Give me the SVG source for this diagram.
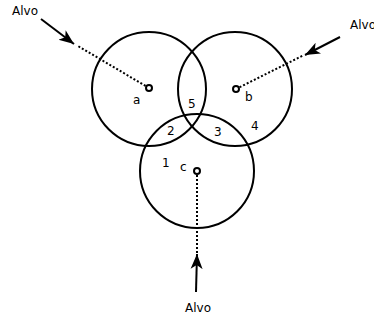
<svg xmlns="http://www.w3.org/2000/svg" width="374" height="321" viewBox="0 0 374 321">
<style>
.c{fill:none;stroke:#000;stroke-width:2}
.d{fill:#fff;stroke:#000;stroke-width:2}
.dot{fill:none;stroke:#000;stroke-width:2;stroke-dasharray:2 2}
.ar{fill:none;stroke:#000;stroke-width:2}
text{font-family:"DejaVu Sans",sans-serif;font-size:12px;fill:#000}
</style>
<defs>
<marker id="ah" markerUnits="userSpaceOnUse" markerWidth="16" markerHeight="14" viewBox="0 0 16 14" refX="15" refY="7" orient="auto">
<path d="M0,1 L15,7 L0,13 L4,7 Z" fill="#000"/>
</marker>
</defs>
<g id="circle-a"><circle class="c" cx="149" cy="89" r="57"/></g>
<g id="circle-b"><circle class="c" cx="235" cy="89" r="57"/></g>
<g id="circle-c"><circle class="c" cx="197" cy="171" r="57"/></g>
<g id="connectors">
<line class="dot" x1="149" y1="88" x2="78" y2="46"/>
<line class="dot" x1="236" y1="89" x2="304" y2="55"/>
<line class="dot" x1="197" y1="171" x2="197" y2="256"/>
<line class="ar" x1="41" y1="19" x2="74" y2="44" marker-end="url(#ah)"/>
<line class="ar" x1="340" y1="37" x2="305" y2="55" marker-end="url(#ah)"/>
<line class="ar" x1="196" y1="292" x2="197" y2="254" marker-end="url(#ah)"/>
</g>
<g id="point-a"><circle class="d" cx="149" cy="88" r="3"/><text x="133" y="104">a</text></g>
<g id="point-b"><circle class="d" cx="236" cy="89" r="3"/><text x="245" y="101">b</text></g>
<g id="point-c"><circle class="d" cx="197" cy="171" r="3"/><text x="180" y="171">c</text></g>
<g id="labels">
<text x="188" y="108">5</text>
<text x="167" y="135">2</text>
<text x="214" y="136">3</text>
<text x="251" y="130">4</text>
<text x="162" y="167">1</text>
</g>
<g id="targets">
<text x="12" y="15">Alvo</text>
<text x="350" y="29">Alvo</text>
<text x="198" y="312" text-anchor="middle">Alvo</text>
</g>
</svg>
